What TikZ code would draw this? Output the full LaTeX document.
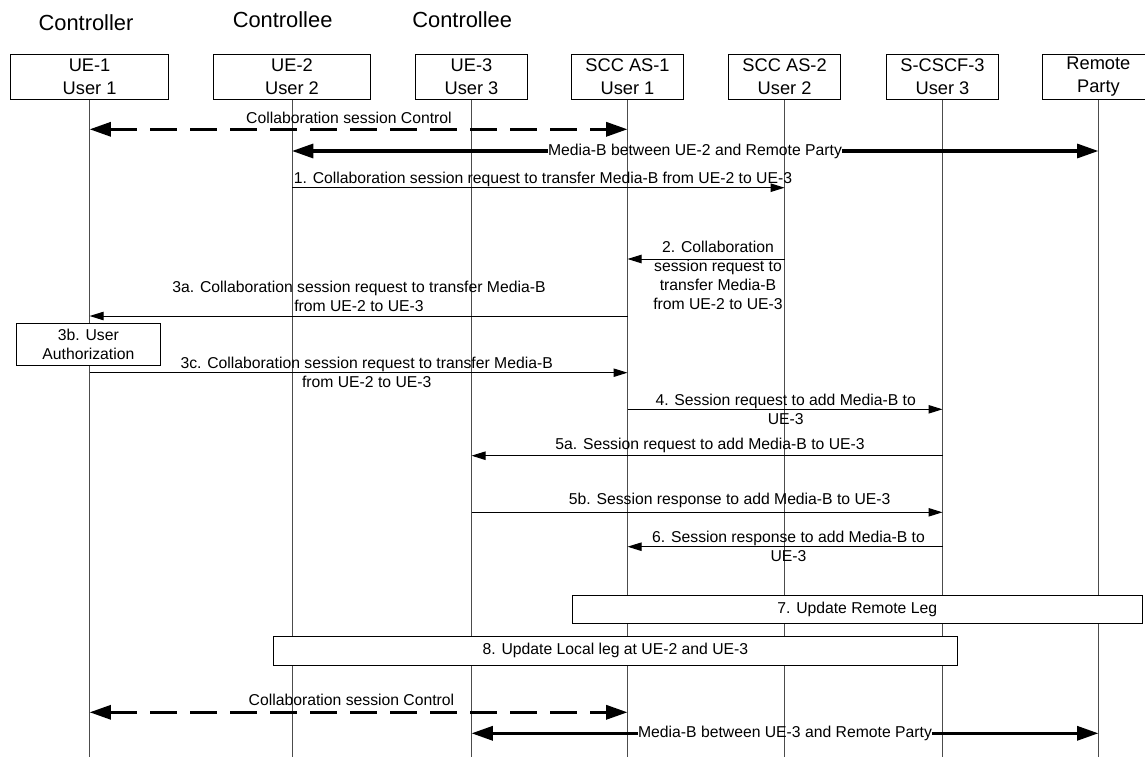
\documentclass[tikz,border=0pt]{standalone}
\usepackage{fontspec}
\setmainfont{Liberation Sans}
\usetikzlibrary{arrows.meta}

\begin{document}
\begin{tikzpicture}[x=0.75pt, y=-0.75pt,
        actor/.style={draw, fill=white, line width=0.75pt, inner sep=0pt, minimum height=33.75pt, align=center, font=\fontsize{13.7}{17}\selectfont},
        wide/.style={actor, minimum width=118pt},
        narrow/.style={actor, minimum width=84.3pt},
        role/.style={inner sep=0pt, font=\fontsize{16.4}{19}\selectfont},
        lifeline/.style={draw=black!70, line width=0.75pt},
        lbl/.style={inner sep=0pt, align=center, font=\fontsize{11.8}{14.2}\selectfont},
        stepbox/.style={draw, fill=white, line width=0.75pt, inner sep=0pt, align=center, font=\fontsize{11.8}{13.8}\selectfont},
        msg/.style={line width=0.75pt, -{Triangle[length=10.5pt, width=6.3pt]}},
        bigarrow/.style={line width=2.4pt, -{Triangle[length=16pt, width=10.5pt]}},
        ctrl/.style={line width=2.4pt, dash pattern=on 20pt off 10pt, {Triangle[length=16pt, width=10.5pt]}-{Triangle[length=16pt, width=10.5pt]}}]
        \useasboundingbox (0,0) rectangle (1145,757);
        \clip (0,0) rectangle (1145,757);

        \node[role] (ctl) at (86,22.5) {Controller};
        \node[role] (cte2) at (282.6,20) {Controllee};
        \node[role] (cte3) at (462.2,20) {Controllee};

        \node[wide] (ue1) at (89.6,76.8) {UE-1\\User 1};
        \node[wide] (ue2) at (292,76.8) {UE-2\\User 2};
        \node[narrow] (ue3) at (471.5,76.8) {UE-3\\User 3};
        \node[narrow] (scc1) at (627.5,76.8) {SCC AS-1\\User 1};
        \node[narrow] (scc2) at (784.6,76.8) {SCC AS-2\\User 2};
        \node[narrow] (cscf3) at (942.5,76.8) {S-CSCF-3\\User 3};
        \node[narrow] (remote) at (1098.4,76.8) {Remote\\Party};

        \foreach \n in {ue1,ue2,ue3,scc1,scc2,cscf3,remote}
            \draw[lifeline] (\n.south) -- (\n |- 0,757);

        \draw[ctrl] (ue1 |- 0,129.3) -- (scc1 |- 0,129.3);
        \node[lbl] (ctrltop) at (349,118.3) {Collaboration session Control};

        \node[lbl] (medtop) at (695,151) {Media-B between UE-2 and Remote Party};
        \draw[bigarrow] (medtop.west) -- (ue2 |- medtop);
        \draw[bigarrow] (medtop.east) -- (remote |- medtop);

        \draw[msg] (ue2 |- 0,187.7) -- (scc2 |- 0,187.7);
        \node[lbl] (m1) at (543,179.5) {1. Collaboration session request to transfer Media-B from UE-2 to UE-3};

        \draw[msg] (scc2 |- 0,259) -- (scc1 |- 0,259);
        \node[lbl] (m2) at (718,275.4) {2. Collaboration\\session request to\\transfer Media-B\\from UE-2 to UE-3};

        \draw[msg] (scc1 |- 0,316) -- (ue1 |- 0,316);
        \node[lbl] (m3a) at (359,296) {3a. Collaboration session request to transfer Media-B\\from UE-2 to UE-3};

        \node[stepbox, minimum width=107.5pt, minimum height=31.8pt] (auth) at (88.4,344.5) {3b. User\\Authorization};

        \draw[msg] (ue1 |- 0,372.7) -- (scc1 |- 0,372.7);
        \node[lbl] (m3c) at (366.7,372.2) {3c. Collaboration session request to transfer Media-B\\from UE-2 to UE-3};

        \draw[msg] (scc1 |- 0,409.3) -- (cscf3 |- 0,409.3);
        \node[lbl] (m4) at (785.7,409.5) {4. Session request to add Media-B to\\UE-3};

        \draw[msg] (cscf3 |- 0,455.7) -- (ue3 |- 0,455.7);
        \node[lbl] (m5a) at (710,445.5) {5a. Session request to add Media-B to UE-3};

        \draw[msg] (ue3 |- 0,512.3) -- (cscf3 |- 0,512.3);
        \node[lbl] (m5b) at (729.7,500.5) {5b. Session response to add Media-B to UE-3};

        \draw[msg] (cscf3 |- 0,546.7) -- (scc1 |- 0,546.7);
        \node[lbl] (m6) at (788.5,546.2) {6. Session response to add Media-B to\\UE-3};

        \node[stepbox, minimum width=427.3pt, minimum height=21.2pt] (remleg) at (857.2,609.2) {7. Update Remote Leg};
        \node[stepbox, minimum width=512.5pt, minimum height=21.2pt] (locleg) at (615.4,650.9) {8. Update Local leg at UE-2 and UE-3};

        \draw[ctrl] (ue1 |- 0,712.3) -- (scc1 |- 0,712.3);
        \node[lbl] (ctrlbot) at (351.5,700) {Collaboration session Control};

        \node[lbl] (medbot) at (785,733.3) {Media-B between UE-3 and Remote Party};
        \draw[bigarrow] (medbot.west) -- (ue3 |- medbot);
        \draw[bigarrow] (medbot.east) -- (remote |- medbot);
    \end{tikzpicture}
\end{document}
